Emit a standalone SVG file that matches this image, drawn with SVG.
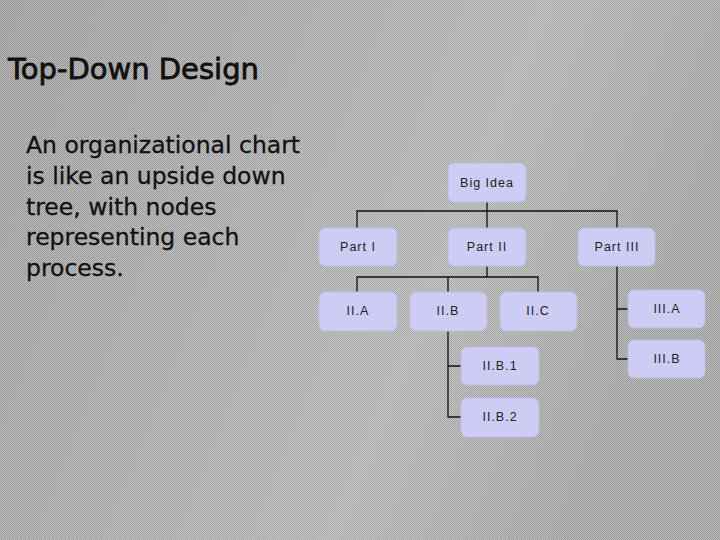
<svg xmlns="http://www.w3.org/2000/svg" width="720" height="540" viewBox="0 0 720 540">
<defs>
<pattern id="dot" width="2" height="2" patternUnits="userSpaceOnUse"><rect width="2" height="2" fill="#b4b4b4"/><rect width="1" height="1" fill="#8e8e8e"/><rect x="1" y="1" width="1" height="1" fill="#8e8e8e"/></pattern>
<linearGradient id="bg" x1="0" y1="0" x2="1" y2="0.3"><stop offset="0" stop-color="#fff" stop-opacity="0.05"/><stop offset="0.7" stop-color="#fff" stop-opacity="0.25"/><stop offset="1" stop-color="#fff" stop-opacity="0.1"/></linearGradient>
<style>
.n rect{fill:#ccccf4;stroke:#bdbde0;stroke-width:1}
.n text{font-family:"Liberation Sans",Arial,sans-serif;font-size:12.5px;fill:#222;text-anchor:middle;letter-spacing:1px}
.c path{fill:none;stroke:#111;stroke-width:1.3}
.t{font-family:"DejaVu Sans",sans-serif;fill:#111}
</style>
</defs>
<rect width="720" height="540" fill="url(#dot)"/>
<rect width="720" height="540" fill="url(#bg)"/>
<text class="t" x="8" y="79" font-size="29" stroke="#111" stroke-width="0.8">Top-Down Design</text>
<g class="t" font-size="23.5" stroke="#111" stroke-width="0.3">
<text x="26" y="153">An organizational chart</text>
<text x="26" y="184">is like an upside down</text>
<text x="26" y="215">tree, with nodes</text>
<text x="26" y="245">representing each</text>
<text x="26" y="276">process.</text>
</g>
<g class="c">
<path d="M487 202V228M357 228V211H617V228"/>
<path d="M487 266V277M357 292V277H538V292M448 277V292"/>
<path d="M448 331V417H461M448 366H461"/>
<path d="M617 266V359H628M617 309H628"/>
</g>
<g id="bigidea" class="n"><rect x="448" y="163" width="78" height="39" rx="6"/><text x="487" y="187">Big Idea</text></g>
<g id="part1" class="n"><rect x="319" y="228" width="78" height="38" rx="6"/><text x="358" y="251">Part I</text></g>
<g id="part2" class="n"><rect x="448" y="228" width="78" height="38" rx="6"/><text x="487" y="251">Part II</text></g>
<g id="part3" class="n"><rect x="578" y="228" width="77" height="38" rx="6"/><text x="617" y="251">Part III</text></g>
<g id="iia" class="n"><rect x="319" y="292" width="78" height="39" rx="6"/><text x="358" y="315">II.A</text></g>
<g id="iib" class="n"><rect x="410" y="292" width="77" height="39" rx="6"/><text x="448" y="315">II.B</text></g>
<g id="iic" class="n"><rect x="500" y="292" width="77" height="39" rx="6"/><text x="538" y="315">II.C</text></g>
<g id="iiia" class="n"><rect x="628" y="290" width="77" height="38" rx="6"/><text x="667" y="313">III.A</text></g>
<g id="iiib" class="n"><rect x="628" y="340" width="77" height="38" rx="6"/><text x="667" y="363">III.B</text></g>
<g id="iib1" class="n"><rect x="461" y="347" width="78" height="38" rx="6"/><text x="500" y="370">II.B.1</text></g>
<g id="iib2" class="n"><rect x="461" y="398" width="78" height="39" rx="6"/><text x="500" y="421">II.B.2</text></g>
</svg>
